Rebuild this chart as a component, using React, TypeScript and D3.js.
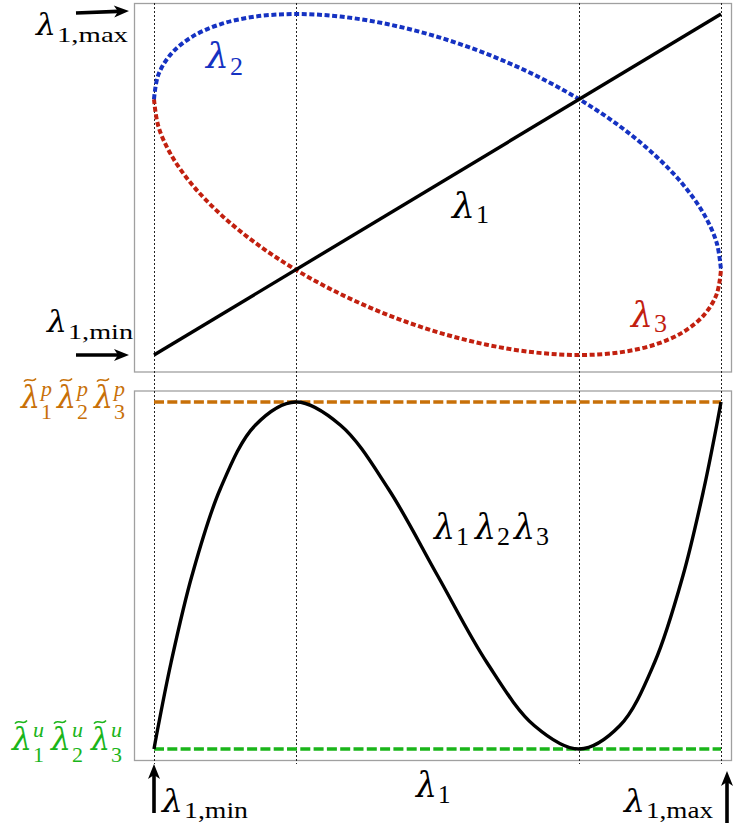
import React from "react";
import * as d3 from "d3";

// lambda_1 positions (normalised: 0 = λ1,min, 1 = λ1,max)
const lambda1Samples = [0, 0.0076, 0.0302, 0.067, 0.117, 0.1786, 0.25, 0.329, 0.4132, 0.5, 0.5868, 0.671, 0.75, 0.8214, 0.883, 0.933, 0.9698, 0.9924, 1];
// upper branch (λ2) and lower branch (λ3) of the eigenvalue loop
const lambda2Values = [0.75, 0.8214, 0.883, 0.933, 0.9698, 0.9924, 1, 0.9924, 0.9698, 0.933, 0.883, 0.8214, 0.75, 0.671, 0.5868, 0.5, 0.4132, 0.329, 0.25];
const lambda3Values = [0.75, 0.671, 0.5868, 0.5, 0.4132, 0.329, 0.25, 0.1786, 0.117, 0.067, 0.0302, 0.0076, 0, 0.0076, 0.0302, 0.067, 0.117, 0.1786, 0.25];
// product λ1λ2λ3 (normalised between lower and upper bound)
const productValues = [0, 0.067, 0.25, 0.5, 0.75, 0.933, 1, 0.933, 0.75, 0.5, 0.25, 0.067, 0, 0.067, 0.25, 0.5, 0.75, 0.933, 1];
// λ1 straight line
const lambda1LineX = [0, 1];
const lambda1LineY = [0, 1];
// vertical guide positions
const guidePositions = [0, 0.25, 0.75, 1];
// bounds in bottom panel
const upperBound = 1;
const lowerBound = 0;

const BLUE = "#1532c2";
const RED = "#c2200f";
const ORANGE = "#c87008";
const GREEN = "#1ab51a";
const GREEK_FONT = "'DejaVu Serif', serif";
const FONT = "'Liberation Serif', 'DejaVu Serif', serif";

type P = [number, number];

function Tilde({ x, y, w, color }: { x: number; y: number; w: number; color: string }) {
  return (
    <path
      d={`M${x},${y + 1.5} C${x + w * 0.3},${y - 4} ${x + w * 0.65},${y + 4} ${x + w},${y - 1.5}`}
      fill="none"
      stroke={color}
      strokeWidth={1.6}
    />
  );
}

function Sym({
  x, y, size, color = "#000", sub, subX, subY, subSize, subW, sup, supY, tilde,
}: {
  x: number; y: number; size: number; color?: string; sub: string; subX: number; subY: number;
  subSize: number; subW?: number; sup?: string; supY?: number; tilde?: boolean;
}) {
  const lw = subX - x - 1;
  return (
    <g fill={color}>
      <text x={x} y={y} fontSize={size} fontStyle="italic" fontFamily={GREEK_FONT} textLength={lw} lengthAdjust="spacingAndGlyphs">λ</text>
      {tilde && <Tilde x={x + 3} y={y - size * 0.9} w={12} color={color} />}
      <text
        x={subX}
        y={subY}
        fontSize={subSize}
        fontFamily={FONT}
        {...(subW ? { textLength: subW, lengthAdjust: "spacingAndGlyphs" } : {})}
      >
        {sub}
      </text>
      {sup && (
        <text x={subX} y={supY} fontSize={subSize} fontStyle="italic" fontFamily={FONT}>
          {sup}
        </text>
      )}
    </g>
  );
}

function Arrow({ x1, y1, x2, y2 }: { x1: number; y1: number; x2: number; y2: number }) {
  const ang = Math.atan2(y2 - y1, x2 - x1);
  const L = 15, hw = 6;
  const c = Math.cos(ang), s = Math.sin(ang);
  const bx = x2 - L * c, by = y2 - L * s;
  const px = -s, py = c;
  return (
    <g>
      <line x1={x1} y1={y1} x2={bx + 4 * c} y2={by + 4 * s} stroke="#000" strokeWidth={3.6} />
      <path d={`M${x2},${y2} L${bx + px * hw},${by + py * hw} L${bx + 4 * c},${by + 4 * s} L${bx - px * hw},${by - py * hw} Z`} fill="#000" />
    </g>
  );
}

export default function App() {
  const W = 747, H = 828;
  const x = d3.scaleLinear().domain([0, 1]).range([154, 721]);
  const yTop = d3.scaleLinear().domain([0, 1]).range([355, 14]);
  const yBot = d3.scaleLinear().domain([lowerBound, upperBound]).range([749, 402]);

  const topLine = d3.line<P>().x((d) => x(d[0])).y((d) => yTop(d[1])).curve(d3.curveCatmullRom.alpha(0.5));
  const botLine = d3.line<P>().x((d) => x(d[0])).y((d) => yBot(d[1])).curve(d3.curveCatmullRom.alpha(0.5));
  const straight = d3.line<P>().x((d) => x(d[0])).y((d) => yTop(d[1]));

  const l2: P[] = lambda1Samples.map((v, i) => [v, lambda2Values[i]]);
  const l3: P[] = lambda1Samples.map((v, i) => [v, lambda3Values[i]]);
  const prod: P[] = lambda1Samples.map((v, i) => [v, productValues[i]]);
  const l1: P[] = lambda1LineX.map((v, i) => [v, lambda1LineY[i]]);

  const frameL = 134.5, frameR = 731.5;

  return (
    <svg width={W} height={H} style={{ position: "absolute", left: 0, top: 0, background: "#fff" }}>
      <rect x={0} y={0} width={W} height={H} fill="#fff" />
      {/* frames */}
      <rect x={frameL} y={3.5} width={frameR - frameL} height={368.5} fill="none" stroke="#a0a0a0" strokeWidth={1.3} />
      <rect x={frameL} y={391} width={frameR - frameL} height={369.5} fill="none" stroke="#a0a0a0" strokeWidth={1.3} />

      {/* vertical guides */}
      {guidePositions.map((g) => (
        <line key={g} x1={Math.round(x(g)) + 0.5} x2={Math.round(x(g)) + 0.5} y1={3} y2={764} stroke="#222" strokeWidth={1} strokeDasharray="2,2" />
      ))}

      {/* top panel curves */}
      <path d={topLine(l3) || ""} fill="none" stroke={RED} strokeWidth={4} strokeDasharray="5,2.6" />
      <path d={topLine(l2) || ""} fill="none" stroke={BLUE} strokeWidth={4} strokeDasharray="5,2.6" />
      <path d={straight(l1) || ""} fill="none" stroke="#000" strokeWidth={3.4} />

      {/* bottom panel */}
      <line x1={x(0)} x2={x(1)} y1={yBot(upperBound)} y2={yBot(upperBound)} stroke={ORANGE} strokeWidth={3.4} strokeDasharray="10,3.3" />
      <line x1={x(0)} x2={x(1)} y1={yBot(lowerBound)} y2={yBot(lowerBound)} stroke={GREEN} strokeWidth={3.4} strokeDasharray="10,3.3" />
      <path d={botLine(prod) || ""} fill="none" stroke="#000" strokeWidth={3.4} />

      {/* arrows */}
      <Arrow x1={76} y1={13} x2={129} y2={11} />
      <Arrow x1={76} y1={355} x2={129} y2={355} />
      <Arrow x1={154} y1={813} x2={154} y2={764} />
      <Arrow x1={727} y1={823} x2={727} y2={771} />

      {/* labels */}
      <Sym x={36} y={35} size={29} sub="1,max" subX={57} subY={42} subSize={22} subW={71} />
      <Sym x={47} y={332} size={29} sub="1,min" subX={68} subY={339} subSize={22} subW={65} />
      <Sym x={206} y={68} size={36} color={BLUE} sub="2" subX={230} subY={75} subSize={26} />
      <Sym x={631} y={327} size={36} color={RED} sub="3" subX={654} subY={332} subSize={26} />
      <Sym x={452} y={218} size={36} sub="1" subX={476} subY={223} subSize={26} />

      <Sym x={434} y={539} size={36} sub="1" subX={456} subY={545} subSize={26} />
      <Sym x={475} y={539} size={36} sub="2" subX={497} subY={545} subSize={26} />
      <Sym x={514} y={539} size={36} sub="3" subX={536} subY={545} subSize={26} />

      <Sym x={416} y={797} size={35} sub="1" subX={438} subY={803} subSize={25} />
      <Sym x={162} y={812} size={31} sub="1,min" subX={184} subY={818} subSize={23} subW={64} />
      <Sym x={624} y={812} size={31} sub="1,max" subX={646} subY={818} subSize={23} subW={67} />

      {/* bound labels */}
      <Sym x={21} y={408} size={31} color={ORANGE} sub="1" subX={41} subY={419} subSize={22} sup="p" supY={396} tilde />
      <Sym x={57} y={408} size={31} color={ORANGE} sub="2" subX={77} subY={419} subSize={22} sup="p" supY={396} tilde />
      <Sym x={94} y={408} size={31} color={ORANGE} sub="3" subX={114} subY={419} subSize={22} sup="p" supY={396} tilde />

      <Sym x={12} y={750} size={31} color={GREEN} sub="1" subX={33} subY={762} subSize={22} sup="u" supY={737} tilde />
      <Sym x={51} y={750} size={31} color={GREEN} sub="2" subX={72} subY={762} subSize={22} sup="u" supY={737} tilde />
      <Sym x={91} y={750} size={31} color={GREEN} sub="3" subX={111} subY={762} subSize={22} sup="u" supY={737} tilde />
    </svg>
  );
}
